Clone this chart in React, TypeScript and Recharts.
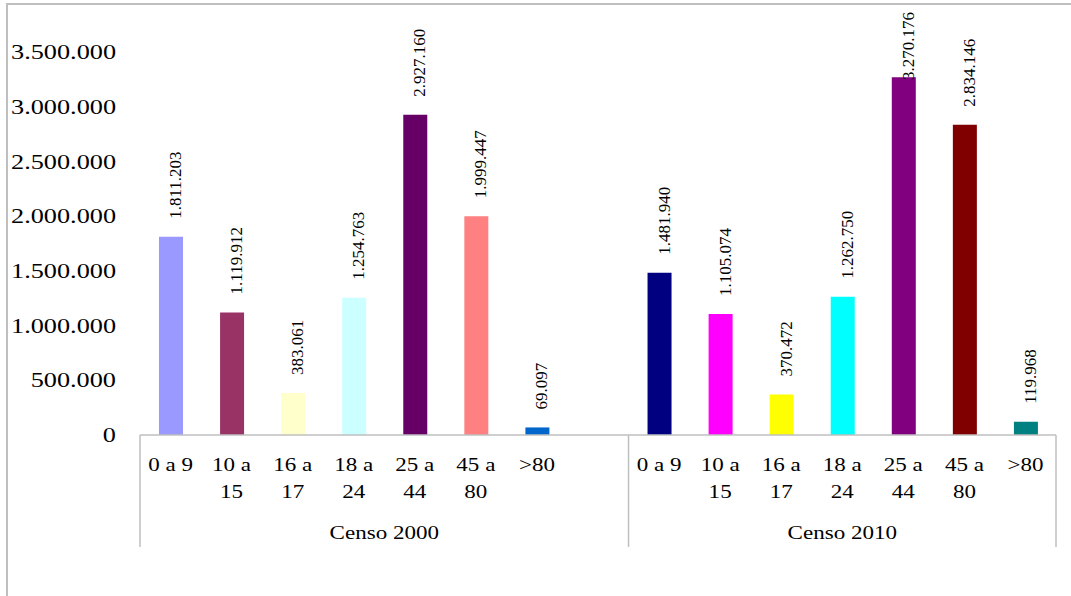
import React from 'react';
import { Bar, BarChart, Cell, LabelList, XAxis, YAxis } from 'recharts';

// age brackets, split over two lines the way the axis shows them
const ageLines: Array<Array<string>> = [
  ['0 a 9'],
  ['10 a', '15'],
  ['16 a', '17'],
  ['18 a', '24'],
  ['25 a', '44'],
  ['45 a', '80'],
  ['>80'],
];
const groupNames = ['Censo 2000', 'Censo 2010'];
const censo2000 = [1811203, 1119912, 383061, 1254763, 2927160, 1999447, 69097];
const censo2010 = [1481940, 1105074, 370472, 1262750, 3270176, 2834146, 119968];
const colors2000 = ['#9999FF', '#993366', '#FFFFCC', '#CCFFFF', '#660066', '#FF8080', '#0066CC'];
const colors2010 = ['#000080', '#FF00FF', '#FFFF00', '#00FFFF', '#800080', '#800000', '#008080'];
const yTicks = [0, 500000, 1000000, 1500000, 2000000, 2500000, 3000000, 3500000];

const W = 1071;
const H = 596;
const MARGIN = { top: 52, right: 15, left: 0, bottom: 41 };
const Y_WIDTH = 140;
const X_HEIGHT = 120;
const GRID = '#bfbfbf';
const FONT = '"Liberation Serif", "Times New Roman", serif';

// 2000 block has an empty slot at the end, then the 2010 block
const rows: Array<any> = [
  ...censo2000.map((v, i) => ({ id: `2000-${i}`, age: i, value: v, color: colors2000[i] })),
  { id: 'gap', age: -1, value: null, color: 'none' },
  ...censo2010.map((v, i) => ({ id: `2010-${i}`, age: i, value: v, color: colors2010[i] })),
];

const BAND = (W - MARGIN.left - MARGIN.right - Y_WIDTH) / rows.length;

const fmt = (n: number) => String(n).replace(/\B(?=(\d{3})+(?!\d))/g, '.');

const YTick = (props: any) => {
  const { x, y, payload } = props;
  return (
    <text transform={`translate(${x},${y}) scale(1.25,1)`} textAnchor="end" dy="0.34em"
      fontFamily={FONT} fontSize={21} fill="#000">
      {fmt(payload.value)}
    </text>
  );
};

const XTick = (props: any) => {
  const { x, y, payload, index } = props;
  const i = payload?.index ?? index;
  const row = rows[i];
  const lines = row && row.age >= 0 ? ageLines[row.age] : [];
  const bottom = y + 112;
  return (
    <g>
      {lines.map((t, k) => (
        <text key={k} transform={`translate(${x},${y + 36 + k * 27}) scale(1.28,1)`} textAnchor="middle"
          fontFamily={FONT} fontSize={18} fill="#000">{t}</text>
      ))}
      {(i === 0 || i === 8) && (
        <line x1={x - BAND / 2} x2={x - BAND / 2} y1={y} y2={bottom} stroke={GRID} strokeWidth={1.5} />
      )}
      {i === rows.length - 1 && (
        <line x1={x + BAND / 2} x2={x + BAND / 2} y1={y} y2={bottom} stroke={GRID} strokeWidth={1.5} />
      )}
      {i === 0 && (
        <text transform={`translate(${x - BAND / 2 + 4 * BAND},${y + 104}) scale(1.28,1)`} textAnchor="middle"
          fontFamily={FONT} fontSize={18} fill="#000">{groupNames[0]}</text>
      )}
      {i === 8 && (
        <text transform={`translate(${x - BAND / 2 + 3.5 * BAND},${y + 104}) scale(1.28,1)`} textAnchor="middle"
          fontFamily={FONT} fontSize={18} fill="#000">{groupNames[1]}</text>
      )}
    </g>
  );
};

// vertical value label above each bar, kept inside the top of the chart
const ValueLabel = (props: any) => {
  const { x, y, width, value } = props;
  if (value === null || value === undefined) return null;
  const text = fmt(value);
  const len = text.replace(/\./g, '').length * 8.5 + (text.split('.').length - 1) * 4.25;
  const cx = Number(x) + Number(width) / 2 + 10;
  const start = Math.max(Number(y) - 18, 12 + len);
  return (
    <text transform={`translate(${cx},${start}) rotate(-90)`} textAnchor="start"
      fontFamily={FONT} fontSize={17} fill="#000">
      {text}
    </text>
  );
};

const App = () => {
  return (
    <div style={{ position: 'fixed', left: 0, top: 0, width: W, height: H, background: '#fff', overflow: 'hidden' }}>
      <div style={{
        position: 'absolute', left: 6, top: 3, width: W, height: H,
        borderTop: `2px solid ${GRID}`, borderLeft: `2px solid ${GRID}`,
      }} />
      <div style={{ position: 'absolute', left: 0, top: 0 }}>
        <BarChart width={W} height={H} data={rows} margin={MARGIN} barSize={24}>
          <XAxis dataKey="id" interval={0} height={X_HEIGHT} tickLine={false} tickSize={0} tickMargin={0}
            axisLine={{ stroke: GRID, strokeWidth: 1.5 }} tick={<XTick />} />
          <YAxis domain={[0, 3500000]} ticks={yTicks} width={Y_WIDTH} axisLine={false} tickLine={false}
            tickSize={0} tickMargin={24} tick={<YTick />} interval={0} />
          <Bar dataKey="value" isAnimationActive={false}>
            {rows.map((r) => <Cell key={r.id} fill={r.color} />)}
            <LabelList dataKey="value" content={<ValueLabel />} />
          </Bar>
        </BarChart>
      </div>
    </div>
  );
};

export default App;
